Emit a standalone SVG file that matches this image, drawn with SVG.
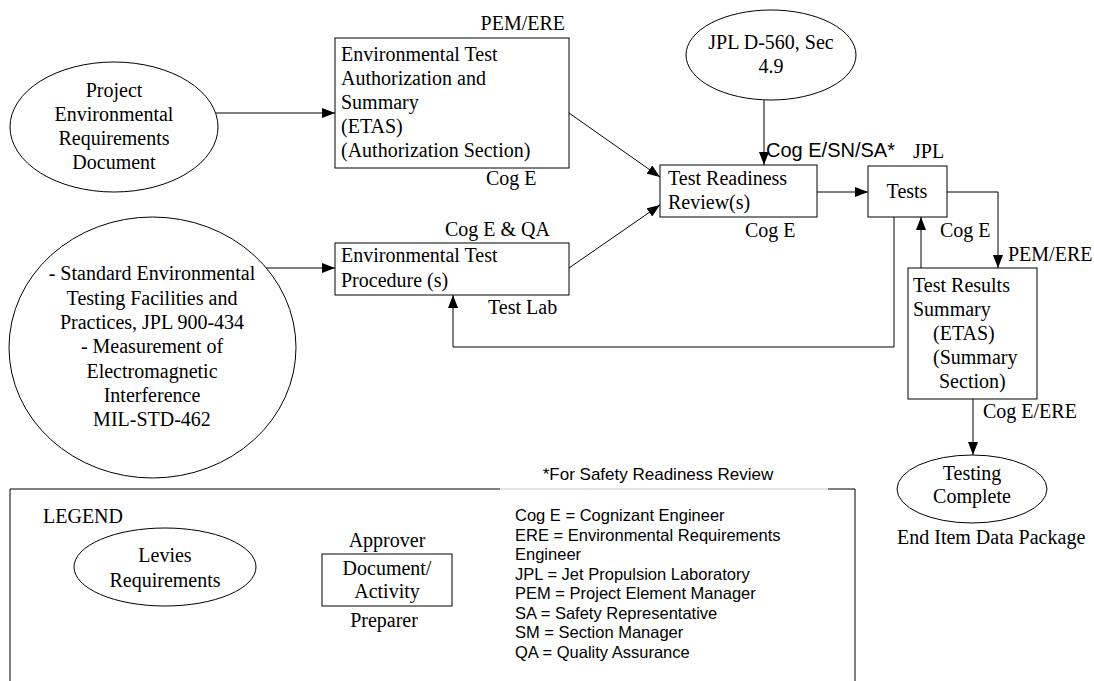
<svg xmlns="http://www.w3.org/2000/svg" width="1094" height="681" viewBox="0 0 1094 681">
<defs>
<style>
.s{fill:#fff;stroke:#000;stroke-width:1}
.t{font-family:"Liberation Serif","Times New Roman",serif;font-size:20px;fill:#000}
.a{font-family:"Liberation Sans",Arial,sans-serif;fill:#000}
.c{text-anchor:middle}
.ln{fill:none;stroke:#000;stroke-width:1}
</style>
<marker id="ah" markerUnits="userSpaceOnUse" markerWidth="13" markerHeight="10" refX="13" refY="5" orient="auto">
<path d="M0,0 L13,5 L0,10 z" fill="#000"/>
</marker>
</defs>
<rect width="1094" height="681" fill="#fff"/>

<g id="connectors">
<path class="ln" d="M216,113 H335" marker-end="url(#ah)"/>
<path class="ln" d="M569,113 L660,177" marker-end="url(#ah)"/>
<path class="ln" d="M569,268 L660,205" marker-end="url(#ah)"/>
<path class="ln" d="M764,100 V165" marker-end="url(#ah)"/>
<path class="ln" d="M266,268 H335" marker-end="url(#ah)"/>
<path class="ln" d="M817,192 H868" marker-end="url(#ah)"/>
<path class="ln" d="M947,192 H998 V268" marker-end="url(#ah)"/>
<path class="ln" d="M921,268 V217" marker-end="url(#ah)"/>
<path class="ln" d="M894,217 V347 H453 V295" marker-end="url(#ah)"/>
<path class="ln" d="M973,399 V455" marker-end="url(#ah)"/>
</g>

<g id="project-erd">
<ellipse class="s" cx="114" cy="127" rx="104" ry="65"/>
<text class="t c" x="114" y="97">Project</text>
<text class="t c" x="114" y="121">Environmental</text>
<text class="t c" x="114" y="145">Requirements</text>
<text class="t c" x="114" y="169">Document</text>
</g>

<g id="etas">
<rect class="s" x="335" y="38" width="234" height="130"/>
<text class="t" x="341" y="61">Environmental Test</text>
<text class="t" x="341" y="85">Authorization and</text>
<text class="t" x="341" y="109">Summary</text>
<text class="t" x="341" y="133">(ETAS)</text>
<text class="t" x="341" y="157">(Authorization Section)</text>
<text class="t" x="565" y="30" text-anchor="end">PEM/ERE</text>
<text class="t" x="486" y="185">Cog E</text>
</g>

<g id="standards">
<ellipse class="s" cx="152.5" cy="347.5" rx="143.5" ry="130.5"/>
<text class="t c" x="152" y="280">- Standard Environmental</text>
<text class="t c" x="152" y="304.5">Testing Facilities and</text>
<text class="t c" x="152" y="329">Practices, JPL 900-434</text>
<text class="t c" x="152" y="353">- Measurement of</text>
<text class="t c" x="152" y="377.5">Electromagnetic</text>
<text class="t c" x="152" y="402">Interference</text>
<text class="t c" x="152" y="426">MIL-STD-462</text>
</g>

<g id="etp">
<rect class="s" x="335" y="243" width="234" height="52"/>
<text class="t" x="341" y="262">Environmental Test</text>
<text class="t" x="341" y="287">Procedure (s)</text>
<text class="t" x="445" y="236">Cog E &amp; QA</text>
<text class="t" x="488" y="314">Test Lab</text>
</g>

<g id="jpl-d560">
<ellipse class="s" cx="771" cy="55" rx="85" ry="45"/>
<text class="t c" x="771" y="49">JPL D-560, Sec</text>
<text class="t c" x="771" y="73">4.9</text>
</g>

<g id="trr">
<rect class="s" x="660" y="165" width="157" height="52"/>
<text class="t" x="668" y="185">Test Readiness</text>
<text class="t" x="668" y="209">Review(s)</text>
<text class="a" x="766" y="157" font-size="20">Cog E/SN/SA*</text>
<text class="t" x="745" y="237">Cog E</text>
</g>

<g id="tests">
<rect class="s" x="868" y="166" width="79" height="51"/>
<text class="t c" x="907" y="198">Tests</text>
<text class="t" x="913" y="158">JPL</text>
<text class="t" x="940" y="237">Cog E</text>
<text class="t" x="1008" y="261">PEM/ERE</text>
</g>

<g id="trs">
<rect class="s" x="908" y="268" width="129" height="131"/>
<text class="t" x="913" y="292">Test Results</text>
<text class="t" x="913" y="316">Summary</text>
<text class="t" x="933" y="340">(ETAS)</text>
<text class="t" x="933" y="364">(Summary</text>
<text class="t" x="939" y="388">Section)</text>
<text class="t" x="983" y="418">Cog E/ERE</text>
</g>

<g id="testing-complete">
<ellipse class="s" cx="972" cy="489" rx="75" ry="34"/>
<text class="t c" x="972" y="480">Testing</text>
<text class="t c" x="972" y="503">Complete</text>
<text class="t" x="897" y="544">End Item Data Package</text>
</g>

<g id="legend">
<path class="ln" d="M10,690 V489 H500"/>
<path fill="none" stroke="#c8c8c8" stroke-width="1" d="M500,489 H828"/>
<path class="ln" d="M828,489 H855 V690"/>
<text class="a c" x="658" y="480" font-size="17">*For Safety Readiness Review</text>
<text class="t" x="43" y="523">LEGEND</text>
<ellipse class="s" cx="165" cy="567" rx="91" ry="39"/>
<text class="t c" x="165" y="562">Levies</text>
<text class="t c" x="165" y="587">Requirements</text>
<rect class="s" x="322" y="554" width="130" height="52"/>
<text class="t c" x="387" y="547">Approver</text>
<text class="t c" x="387" y="575">Document/</text>
<text class="t c" x="387" y="598">Activity</text>
<text class="t c" x="384" y="627">Preparer</text>
<g class="a" font-size="16.5">
<text x="515" y="521">Cog E = Cognizant Engineer</text>
<text x="515" y="540.5">ERE = Environmental Requirements</text>
<text x="515" y="560">Engineer</text>
<text x="515" y="579.5">JPL = Jet Propulsion Laboratory</text>
<text x="515" y="599">PEM = Project Element Manager</text>
<text x="515" y="618.5">SA = Safety Representative</text>
<text x="515" y="638">SM = Section Manager</text>
<text x="515" y="657.5">QA = Quality Assurance</text>
</g>
</g>
</svg>
